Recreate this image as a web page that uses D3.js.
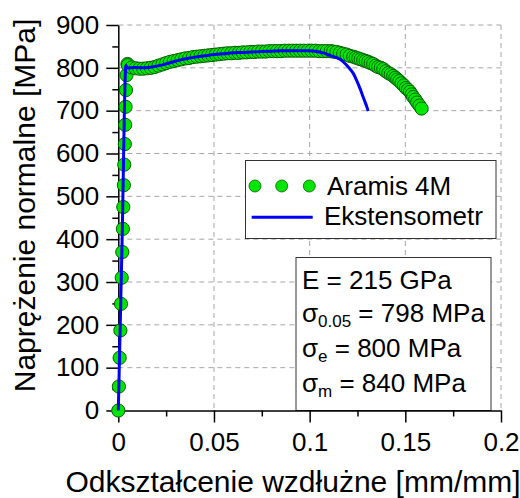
<!DOCTYPE html>
<html>
<head>
<meta charset="utf-8">
<script src="https://cdn.jsdelivr.net/npm/d3@7/dist/d3.min.js"></script>
<style>
  html, body { margin: 0; padding: 0; background: #fff; }
  svg { display: block; font-family: "Liberation Sans", Arial, sans-serif; }
</style>
</head>
<body>
<svg id="chart" width="520" height="498"></svg>
<script>
// ---------- data ----------
const xTicks = [0, 0.05, 0.1, 0.15, 0.2];
const xTickLabels = ["0", "0.05", "0.1", "0.15", "0.2"];
const xMinorTicks = [0.025, 0.075, 0.125, 0.175];
const yTicks = [0, 100, 200, 300, 400, 500, 600, 700, 800, 900];
const yMinorTicks = [50, 150, 250, 350, 450, 550, 650, 750, 850];

const aramisStrain = [
  0, 0.0003, 0.0007, 0.0011, 0.0014, 0.0018, 0.0021, 0.0024, 0.0026, 0.0029,
  0.0031, 0.0034, 0.0036, 0.0038, 0.0040, 0.0043, 0.0048,
  0.005, 0.007, 0.009, 0.011, 0.013, 0.015, 0.017, 0.019, 0.021, 0.023,
  0.025, 0.027, 0.029, 0.031, 0.033, 0.035, 0.037, 0.039, 0.041, 0.043,
  0.045, 0.047, 0.049, 0.051, 0.053, 0.055, 0.057, 0.059, 0.061, 0.063,
  0.065, 0.067, 0.069, 0.071, 0.073, 0.075, 0.077, 0.079, 0.081, 0.083,
  0.085, 0.087, 0.089, 0.091, 0.093, 0.095, 0.097, 0.099, 0.101, 0.103,
  0.105, 0.107, 0.109, 0.111, 0.1123, 0.114, 0.1158, 0.1175, 0.1193, 0.121,
  0.1228, 0.1241, 0.1254, 0.1267, 0.128, 0.1293, 0.1306, 0.1319, 0.1332, 0.1345,
  0.1358, 0.1372, 0.1385, 0.1398, 0.1411, 0.1424, 0.1437, 0.1448, 0.1458, 0.1469,
  0.148, 0.1492, 0.1503, 0.1514, 0.1524, 0.1533, 0.1541, 0.1552, 0.1562, 0.1574,
  0.1585
];
const aramisStress = [
  0, 56, 123, 187, 249, 310, 370, 424, 475, 526,
  574, 622, 667, 709, 748, 783, 809,
  806, 801, 799, 798, 798, 799, 800, 802, 805, 808,
  811, 814, 816, 818, 820, 822, 823, 825, 826, 827,
  828, 829, 830, 831, 832, 833, 834, 834, 835, 835,
  836, 836, 837, 837, 838, 838, 838, 839, 839, 839,
  839, 840, 840, 840, 840, 840, 840, 840, 840, 840,
  839, 839, 839, 839, 838, 837, 835, 833, 831, 828,
  826, 824, 822, 820, 818, 816, 814, 811, 809, 805,
  802, 800, 797, 792, 788, 785, 781, 777, 773, 769,
  764, 759, 753, 749, 744, 738, 732, 726, 719, 712,
  705
];

const extStrain = [
  0, 0.0020, 0.0037, 0.0040, 0.0046, 0.008, 0.012, 0.016, 0.020, 0.024,
  0.028, 0.032, 0.036, 0.040, 0.045, 0.050, 0.055, 0.060, 0.065, 0.070,
  0.075, 0.080, 0.085, 0.090, 0.095, 0.100, 0.1037, 0.1070, 0.1106, 0.1150,
  0.1176, 0.1202, 0.1228, 0.1246, 0.1263, 0.1277, 0.1289, 0.1298, 0.1306
];
const extStress = [
  0, 400, 790, 806, 800, 801, 800, 801, 804, 808,
  813, 818, 822, 825, 828, 831, 833, 835, 836, 837,
  838, 839, 840, 840, 840, 840, 838, 835, 829, 822,
  814, 802, 787, 770, 752, 735, 721, 710, 699
];

const legendLabels = ["Aramis 4M", "Ekstensometr"];
const xLabel = "Odkształcenie wzdłużne [mm/mm]";
const yLabel = "Naprężenie normalne [MPa]";

// ---------- chart ----------
const svg = d3.select("#chart");
const L = 118.3, R = 501, T = 25, B = 410.5;
const x = d3.scaleLinear().domain([0, 0.2]).range([L, R]);
const y = d3.scaleLinear().domain([0, 900]).range([B, T]);

const gridColor = "#a6a6a6";
// grid
const grid = svg.append("g");
grid.selectAll("line.v").data(xTicks.slice(1)).join("line")
  .attr("x1", d => x(d)).attr("x2", d => x(d))
  .attr("y1", T).attr("y2", B)
  .attr("stroke", gridColor).attr("stroke-width", 1).attr("stroke-dasharray", "5,4");
grid.selectAll("line.h").data(yTicks.slice(1)).join("line")
  .attr("x1", L).attr("x2", R)
  .attr("y1", d => y(d)).attr("y2", d => y(d))
  .attr("stroke", gridColor).attr("stroke-width", 1).attr("stroke-dasharray", "5,4");

// boxes
svg.append("rect").attr("x", 245.5).attr("y", 160.5).attr("width", 250.5).attr("height", 78)
  .attr("fill", "#fff").attr("stroke", "#333").attr("stroke-width", 1);
svg.append("rect").attr("x", 296).attr("y", 257.5).attr("width", 195).attr("height", B - 257.5)
  .attr("fill", "#fff").attr("stroke", "#333").attr("stroke-width", 1);

// axes
const fs = 26;
svg.append("g").attr("transform", `translate(0,${B})`)
  .call(d3.axisBottom(x).tickValues(xTicks).tickFormat((d, i) => xTickLabels[i])
    .tickSize(12).tickSizeOuter(0).tickPadding(10));
svg.append("g").attr("transform", `translate(0,${B})`)
  .call(d3.axisBottom(x).tickValues(xMinorTicks).tickFormat("").tickSize(6).tickSizeOuter(0))
  .call(g => g.select(".domain").remove());
svg.append("g").attr("transform", `translate(${L},0)`)
  .call(d3.axisLeft(y).tickValues(yTicks).tickFormat(d3.format("d"))
    .tickSize(12).tickSizeOuter(0).tickPadding(7));
svg.append("g").attr("transform", `translate(${L},0)`)
  .call(d3.axisLeft(y).tickValues(yMinorTicks).tickFormat("").tickSize(6).tickSizeOuter(0))
  .call(g => g.select(".domain").remove());

svg.selectAll(".domain").attr("stroke", "#000").attr("stroke-width", 1.5);
svg.selectAll(".tick line").attr("stroke", "#000").attr("stroke-width", 1.5);
svg.selectAll(".tick text").attr("font-size", fs).attr("fill", "#000")
  .attr("font-family", "'Liberation Sans', Arial, sans-serif");

// axis labels
svg.append("text").attr("x", 293).attr("y", 491.5).attr("text-anchor", "middle")
  .attr("font-size", 30).attr("fill", "#000").text(xLabel);
svg.append("text").attr("transform", "translate(35,205.5) rotate(-90)")
  .attr("text-anchor", "middle").attr("font-size", 30).attr("fill", "#000").text(yLabel);

// data
const aramis = aramisStrain.map((s, i) => ({ s, v: aramisStress[i] }));
const ext = extStrain.map((s, i) => ({ s, v: extStress[i] }));
const green = "#00e600", greenStroke = "#0a5c0a", blue = "#0000f5";

svg.append("g").selectAll("circle").data(aramis).join("circle")
  .attr("cx", d => x(d.s)).attr("cy", d => y(d.v)).attr("r", 6.6)
  .attr("fill", green).attr("stroke", greenStroke).attr("stroke-width", 1);

const line = d3.line().x(d => x(d.s)).y(d => y(d.v)).curve(d3.curveCatmullRom.alpha(0.5));
svg.append("path").datum(ext).attr("d", line)
  .attr("fill", "none").attr("stroke", blue).attr("stroke-width", 3);

// legend
const lg = svg.append("g");
lg.selectAll("circle").data([255, 281.7, 309.3]).join("circle")
  .attr("cx", d => d).attr("cy", 186).attr("r", 6)
  .attr("fill", green).attr("stroke", greenStroke).attr("stroke-width", 0.8);
lg.append("text").attr("x", 327).attr("y", 195).attr("font-size", fs).attr("fill", "#000").text(legendLabels[0]);
lg.append("line").attr("x1", 251.7).attr("x2", 312.7).attr("y1", 217.3).attr("y2", 217.3)
  .attr("stroke", blue).attr("stroke-width", 3);
lg.append("text").attr("x", 324).attr("y", 225).attr("font-size", fs).attr("fill", "#000").text(legendLabels[1]);

// annotation
const ann = svg.append("g").attr("font-size", fs).attr("fill", "#000");
ann.append("text").attr("x", 302).attr("y", 288.5).text("E = 215 GPa");
const t2 = ann.append("text").attr("x", 302).attr("y", 322);
t2.append("tspan").text("σ");
t2.append("tspan").attr("font-size", 17).attr("dy", 5).text("0.05");
t2.append("tspan").attr("dy", -5).text(" = 798 MPa");
const t3 = ann.append("text").attr("x", 302).attr("y", 357);
t3.append("tspan").text("σ");
t3.append("tspan").attr("font-size", 17).attr("dy", 5).text("e");
t3.append("tspan").attr("dy", -5).text(" = 800 MPa");
const t4 = ann.append("text").attr("x", 302).attr("y", 391.7);
t4.append("tspan").text("σ");
t4.append("tspan").attr("font-size", 17).attr("dy", 5).text("m");
t4.append("tspan").attr("dy", -5).text(" = 840 MPa");
</script>
</body>
</html>
